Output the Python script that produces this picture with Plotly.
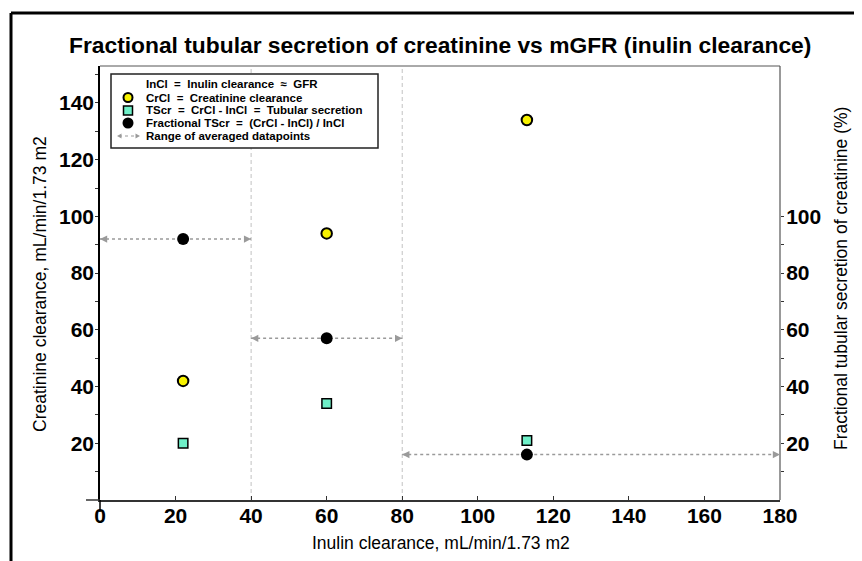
import plotly.graph_objects as go

# ---------------- data ----------------
inulin_x = [22, 60, 113]
crcl = [42, 94, 134]
tscr = [20, 34, 21]
frac_tscr = [92, 57, 16]
range_lo = [0, 40, 80]
range_hi = [40, 80, 180]
bin_edges = [40, 80]

x_ticks = [0, 20, 40, 60, 80, 100, 120, 140, 160, 180]
y_ticks = [20, 40, 60, 80, 100, 120, 140]
y_minor = [10, 30, 50, 70, 90, 110, 130, 150]
y2_ticks = [20, 40, 60, 80, 100]
y2_minor = [10, 30, 50, 70, 90]

legend_labels = [
    "InCl  =  Inulin clearance  \u2248  GFR",
    "CrCl  =  Creatinine clearance",
    "TScr  =  CrCl - InCl  =  Tubular secretion",
    "Fractional TScr  =  (CrCl - InCl) / InCl",
    "Range of averaged datapoints",
]

title_text = "Fractional tubular secretion of creatinine vs mGFR (inulin clearance)"
x_title = "Inulin clearance, mL/min/1.73 m2"
y_title = "Creatinine clearance, mL/min/1.73 m2"
y2_title = "Fractional tubular secretion of creatinine (%)"

# ---------------- layout geometry ----------------
OFF = 8                      # page body margin
W, H = 862 - OFF, 561 - OFF
ML, MR, MT, MB = 100 - OFF, 82, 66 - OFF, 61
PW, PH = W - ML - MR, H - MT - MB
FONT = "Arial, 'Liberation Sans', sans-serif"

YELLOW = "#f7f200"
AQUA = "#6ff0c8"
GRAY = "#9a9a9a"


def px(x):
    """window pixel x -> paper coordinate"""
    return (x - OFF - ML) / PW


def py(y):
    """window pixel y -> paper coordinate"""
    return (H - MB - (y - OFF)) / PH


def nb(s):
    return s.replace(" ", "\u00a0")


fig = go.Figure()

# range lines (dotted)
for lo, hi, f in zip(range_lo, range_hi, frac_tscr):
    fig.add_trace(go.Scatter(
        x=[lo, hi], y=[f, f], yaxis="y2", mode="lines",
        line=dict(color=GRAY, width=1.5, dash="dot"),
        showlegend=False, hoverinfo="skip"))

fig.add_trace(go.Scatter(
    x=inulin_x, y=crcl, mode="markers", name="CrCl",
    marker=dict(symbol="circle", size=10.5, color=YELLOW,
                line=dict(color="black", width=2)),
    showlegend=False))
fig.add_trace(go.Scatter(
    x=inulin_x, y=tscr, mode="markers", name="TScr",
    marker=dict(symbol="square", size=9.5, color=AQUA,
                line=dict(color="black", width=1.5)),
    showlegend=False))
fig.add_trace(go.Scatter(
    x=inulin_x, y=frac_tscr, yaxis="y2", mode="markers", name="Fractional TScr",
    marker=dict(symbol="circle", size=12, color="black"),
    showlegend=False))

shapes = []
# vertical dashed bin edges
for e in bin_edges:
    shapes.append(dict(type="line", xref="x", yref="paper", x0=e, x1=e, y0=0, y1=1,
                       line=dict(color="#c2c2c2", width=1, dash="4px,3px"), layer="below"))
# plot box top & right
shapes.append(dict(type="line", xref="paper", yref="paper", x0=0, x1=1, y0=1, y1=1,
                   line=dict(color="#555555", width=1)))
shapes.append(dict(type="line", xref="paper", yref="paper", x0=1, x1=1, y0=0, y1=1,
                   line=dict(color="#555555", width=1.2)))
# axis overhangs
shapes.append(dict(type="line", xref="paper", yref="paper", x0=px(86), x1=0, y0=0, y1=0,
                   line=dict(color="#333333", width=1.5)))
shapes.append(dict(type="line", xref="paper", yref="paper", x0=0, x1=0, y0=py(512), y1=0,
                   line=dict(color="black", width=1.5)))
# outer frame (top & left)
shapes.append(dict(type="line", xref="paper", yref="paper", x0=px(11), x1=px(870),
                   y0=py(13), y1=py(13), line=dict(color="black", width=3)))
shapes.append(dict(type="line", xref="paper", yref="paper", x0=px(11), x1=px(11),
                   y0=py(13), y1=py(570), line=dict(color="black", width=3)))

# legend box
shapes.append(dict(type="rect", xref="paper", yref="paper", x0=px(111), x1=px(378),
                   y0=py(148), y1=py(74), line=dict(color="#222222", width=1.5),
                   fillcolor="white", layer="below"))

row_y = [84, 97.5, 110.5, 123, 136]
mx = 128


def circle(cx, cy, r, fill, lw, lc="black"):
    return dict(type="circle", xref="paper", yref="paper",
                x0=px(cx - r), x1=px(cx + r), y0=py(cy + r), y1=py(cy - r),
                fillcolor=fill, line=dict(color=lc, width=lw))


shapes.append(circle(mx, row_y[1], 4.5, YELLOW, 2))
shapes.append(dict(type="rect", xref="paper", yref="paper",
                   x0=px(mx - 4.5), x1=px(mx + 4.5), y0=py(row_y[2] + 4.5), y1=py(row_y[2] - 4.5),
                   fillcolor=AQUA, line=dict(color="black", width=1.5)))
shapes.append(circle(mx, row_y[3], 5.5, "black", 0))
# legend arrow symbol
ay = row_y[4]
shapes.append(dict(type="line", xref="paper", yref="paper", x0=px(119), x1=px(138),
                   y0=py(ay), y1=py(ay), line=dict(color=GRAY, width=1.2, dash="dot")))
for tip, base in [(117, 121.5), (140, 135.5)]:
    shapes.append(dict(type="path", xref="paper", yref="paper",
                       path=f"M{px(tip)},{py(ay)} L{px(base)},{py(ay - 2.5)} L{px(base)},{py(ay + 2.5)} Z",
                       fillcolor=GRAY, line=dict(color=GRAY, width=0)))

annotations = []
# arrowheads at the ends of each range
for lo, hi, f in zip(range_lo, range_hi, frac_tscr):
    for xv, axo in [(lo, 7), (hi, -7)]:
        annotations.append(dict(x=xv, y=f, xref="x", yref="y2", text="", showarrow=True,
                                ax=axo, ay=0, arrowhead=2, arrowsize=1.2, arrowwidth=1.2,
                                arrowcolor=GRAY, standoff=0))

for lab, yy in zip(legend_labels, row_y):
    annotations.append(dict(text=nb(lab), xref="paper", yref="paper", x=px(144), y=py(yy),
                            xanchor="left", yanchor="middle", showarrow=False,
                            font=dict(family=FONT, size=11.5, color="black", weight="bold")))

annotations.append(dict(text=title_text, xref="paper", yref="paper", x=px(440), y=py(45),
                        xanchor="center", yanchor="middle", showarrow=False,
                        font=dict(family=FONT, size=22.8, color="black", weight="bold")))
annotations.append(dict(text=x_title, xref="paper", yref="paper", x=px(441), y=py(543),
                        xanchor="center", yanchor="middle", showarrow=False,
                        font=dict(family=FONT, size=17.5, color="black")))
annotations.append(dict(text=y_title, xref="paper", yref="paper", x=px(40), y=py(284),
                        xanchor="center", yanchor="middle", showarrow=False, textangle=-90,
                        font=dict(family=FONT, size=17.5, color="black")))
annotations.append(dict(text=y2_title, xref="paper", yref="paper", x=px(841), y=py(278),
                        xanchor="center", yanchor="middle", showarrow=False, textangle=-90,
                        font=dict(family=FONT, size=17.5, color="black")))

tickfont = dict(family=FONT, size=21, color="black", weight="bold")
YR = [0, PH / 2.836]

fig.update_layout(
    width=W, height=H,
    margin=dict(l=ML, r=MR, t=MT, b=MB, autoexpand=False),
    paper_bgcolor="white", plot_bgcolor="white",
    showlegend=False,
    xaxis=dict(range=[0, 180], tickvals=x_ticks, ticks="inside", ticklen=4,
               tickcolor="#333333", showline=True, linecolor="#333333", linewidth=1.5,
               showgrid=False, zeroline=False, tickfont=tickfont, fixedrange=True,
               ticklabelstandoff=-4),
    yaxis=dict(range=YR, tickvals=y_ticks, ticks="outside", ticklen=3,
               tickcolor="#333333", showline=True, linecolor="black", linewidth=1.5,
               showgrid=False, zeroline=False, tickfont=tickfont, ticklabelstandoff=-3,
               minor=dict(tickvals=y_minor, ticks="outside", ticklen=3, tickcolor="#333333")),
    yaxis2=dict(range=YR, overlaying="y", side="right", tickvals=y2_ticks, ticks="outside",
                ticklen=3, tickcolor="#333333", showline=False, showgrid=False, zeroline=False,
                tickfont=tickfont, ticklabelstandoff=-2,
                minor=dict(tickvals=y2_minor, ticks="outside", ticklen=3, tickcolor="#333333")),
    shapes=shapes,
    annotations=annotations,
)

fig.write_html("out.html")
